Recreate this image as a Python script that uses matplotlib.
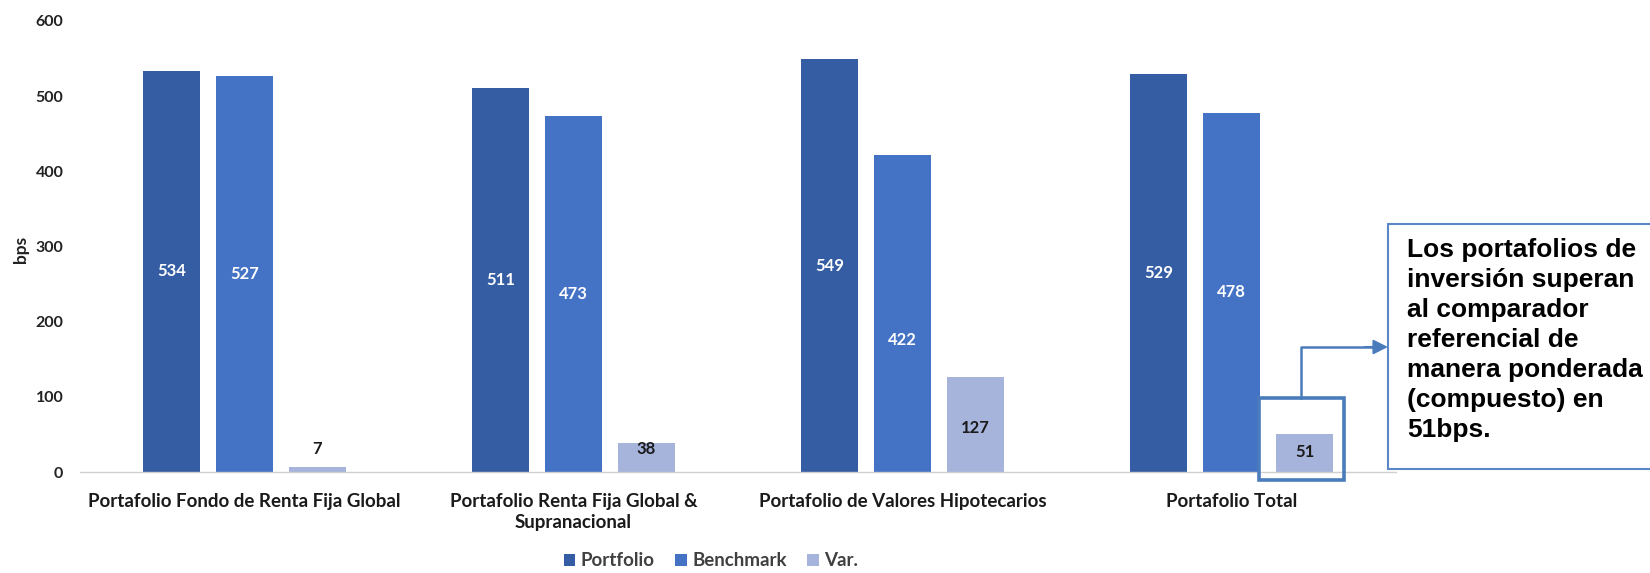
import matplotlib
matplotlib.use("Agg")
import matplotlib.pyplot as plt
from matplotlib.patches import Rectangle, FancyArrowPatch
import numpy as np

categories = [
    "Portafolio Fondo de Renta Fija Global",
    "Portafolio Renta Fija Global &\nSupranacional",
    "Portafolio de Valores Hipotecarios",
    "Portafolio Total",
]
series_names = ["Portfolio", "Benchmark", "Var."]
portfolio = [534, 511, 549, 529]
benchmark = [527, 473, 422, 478]
variation = [7, 38, 127, 51]
y_ticks = [0, 100, 200, 300, 400, 500, 600]

# heights at which the value labels sit inside/above the bars
portfolio_label_y = [v / 2 for v in portfolio]
benchmark_label_y = [v / 2 for v in benchmark[:2]] + [175, benchmark[3] / 2]
variation_label_y = [31, 31, 59, 26]

note = ("Los portafolios de\ninversión superan\nal comparador\nreferencial de\n"
        "manera ponderada\n(compuesto) en\n51bps.")

colors = ["#355DA3", "#4472C4", "#A6B4DC"]
frame_blue = "#4A7CBC"
box_blue = "#5A88C6"
font = "Lato"

W, H = 1650, 573
fig = plt.figure(figsize=(W / 100, H / 100), dpi=100)
ax = fig.add_axes([80 / W, 1 - 472 / H, (1396 - 80) / W, (472 - 21) / H])

x = np.arange(len(categories))
width = 0.173
step = 0.222
series = [portfolio, benchmark, variation]
label_ys = [portfolio_label_y, benchmark_label_y, variation_label_y]
label_colors = ["white", "white", "#1a1a1a"]

for i, (vals, col, name) in enumerate(zip(series, colors, series_names)):
    pos = x + (i - 1) * step
    ax.bar(pos, vals, width=width, color=col, label=name, zorder=2)
    for px, v, ly in zip(pos, vals, label_ys[i]):
        ax.text(px, ly, f"{v}", ha="center", va="center", color=label_colors[i],
                fontsize=12, fontweight="bold", family=font, zorder=3)

ax.set_xlim(-0.5, 3.5)
ax.set_ylim(0, 600)
ax.set_yticks(y_ticks)
ax.set_yticklabels([str(t) for t in y_ticks], family=font, fontweight="bold",
                   fontsize=11.5, color="#222222")
ax.set_xticks(x)
ax.set_xticklabels(categories, family=font, fontweight="bold", fontsize=13.5,
                   color="#1a1a1a", linespacing=1.3)
ax.tick_params(axis="both", length=0)
ax.tick_params(axis="y", pad=12)
ax.tick_params(axis="x", pad=15)
for s in ["top", "right", "left"]:
    ax.spines[s].set_visible(False)
ax.spines["bottom"].set_color("#D0D0D0")
ax.spines["bottom"].set_linewidth(1.0)
ax.set_ylabel("bps", family=font, fontweight="bold", fontsize=12.5, color="#222222")
ax.yaxis.set_label_coords((29 - 80) / (1396 - 80), (472 - 249) / (472 - 21))

leg = fig.legend(loc="center", bbox_to_anchor=(711 / W, 1 - 561 / H), ncol=3,
                 frameon=False, handlelength=0.6, handleheight=0.6,
                 columnspacing=1.1, handletextpad=0.3, borderpad=0,
                 prop={"family": font, "weight": "bold", "size": 13.5})
for t in leg.get_texts():
    t.set_color("#404040")


def fx(px):
    return px / W


def fy(py):
    return 1 - py / H


# highlight frame around the composite variation bar
fig.patches.append(Rectangle((fx(1259), fy(480)), fx(1344) - fx(1259), fy(398) - fy(480),
                             transform=fig.transFigure, fill=False,
                             edgecolor=frame_blue, linewidth=2.6, zorder=5))

# callout box with note
fig.patches.append(Rectangle((fx(1388), fy(469)), fx(1720) - fx(1388), fy(224) - fy(469),
                             transform=fig.transFigure, fill=True, facecolor="white",
                             edgecolor=box_blue, linewidth=1.5, zorder=5))
fig.text(fx(1407), fy(238), note, ha="left", va="top", family="Liberation Sans",
         fontweight="bold", fontsize=19, linespacing=1.32, color="black", zorder=6)

# connector from frame to callout
fig.lines.append(plt.Line2D([fx(1301), fx(1301), fx(1375)], [fy(398), fy(347), fy(347)],
                            transform=fig.transFigure, color=frame_blue, linewidth=1.8,
                            zorder=5))
fig.patches.append(FancyArrowPatch((fx(1365), fy(347)), (fx(1388), fy(347)),
                                   transform=fig.transFigure, arrowstyle="-|>",
                                   mutation_scale=22, color=frame_blue, linewidth=1.5,
                                   shrinkA=0, shrinkB=0, zorder=6))

fig.savefig("out.png", dpi=100)
